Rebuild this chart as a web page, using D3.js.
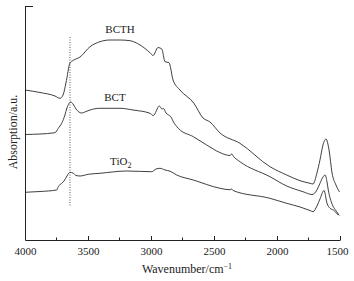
<!DOCTYPE html>
<html>
  <head>
    <meta charset="utf-8">
    <script src="https://cdn.jsdelivr.net/npm/d3@7"></script>
    <style>
      body { margin: 0; background: #fff; }
      text { font-family: "Liberation Serif", "Times New Roman", serif; fill: #222; }
    </style>
  </head>
  <body>
    <script>
      // spectra: [wavenumber, absorption (a.u.)]
      var bcth = [
        [4000, 1.50], [3881, 1.475], [3762, 1.44], [3722, 1.417], [3698, 1.45],
        [3675, 1.57], [3643, 1.77], [3619, 1.795], [3563, 1.83], [3484, 1.933],
        [3405, 1.983], [3325, 2.00], [3246, 2.00], [3167, 1.993], [3087, 1.95],
        [3008, 1.873], [2984, 1.845], [2944, 1.925], [2929, 1.92], [2913, 1.907],
        [2889, 1.783], [2857, 1.773], [2825, 1.60], [2770, 1.50], [2661, 1.37],
        [2587, 1.22], [2532, 1.18], [2452, 1.07], [2294, 0.967], [2056, 0.733],
        [1923, 0.65], [1817, 0.593], [1738, 0.567], [1714, 0.56], [1683, 0.67],
        [1659, 0.80], [1635, 0.95], [1611, 1.01], [1587, 0.90], [1563, 0.67],
        [1532, 0.55], [1504, 0.48]
      ];
      var bct = [
        [4000, 1.055], [3881, 1.06], [3762, 1.073], [3736, 1.117], [3709, 1.167],
        [3683, 1.25], [3667, 1.32], [3637, 1.38], [3619, 1.36], [3595, 1.31],
        [3550, 1.27], [3516, 1.285], [3484, 1.30], [3405, 1.317], [3246, 1.317],
        [3143, 1.30], [3008, 1.267], [2982, 1.245], [2933, 1.34], [2913, 1.31],
        [2901, 1.315], [2881, 1.27], [2861, 1.25], [2841, 1.23], [2823, 1.183],
        [2783, 1.117], [2664, 1.033], [2558, 0.95], [2454, 0.875], [2373, 0.845],
        [2360, 0.86], [2345, 0.835], [2294, 0.783], [2056, 0.633], [1923, 0.54],
        [1794, 0.483], [1722, 0.455], [1683, 0.50], [1659, 0.567], [1635, 0.63],
        [1619, 0.65], [1603, 0.58], [1593, 0.50], [1566, 0.37], [1526, 0.283],
        [1506, 0.245]
      ];
      var tio2 = [
        [4000, 0.477], [3881, 0.485], [3748, 0.50], [3736, 0.533], [3709, 0.567],
        [3690, 0.59], [3667, 0.64], [3643, 0.677], [3619, 0.67], [3595, 0.645],
        [3563, 0.64], [3498, 0.657], [3405, 0.667], [3193, 0.69], [2994, 0.683],
        [2960, 0.71], [2929, 0.717], [2889, 0.70], [2849, 0.688], [2796, 0.65],
        [2664, 0.60], [2452, 0.517], [2373, 0.502], [2360, 0.51], [2349, 0.495],
        [2056, 0.417], [1923, 0.367], [1817, 0.33], [1738, 0.295], [1714, 0.283],
        [1683, 0.34], [1659, 0.41], [1627, 0.495], [1603, 0.367], [1579, 0.317],
        [1553, 0.30], [1514, 0.25]
      ];
      var seriesNames = ["BCTH", "BCT", "TiO2"];
      // label anchor points [wavenumber, absorption]
      var labelPos = [[3246, 2.07], [3286, 1.39], [3325, 0.75]];
      // dotted marker line
      var markerWn = 3643;
      var markerRange = [0.33, 2.03];

      var xTicks = [4000, 3500, 3000, 2500, 2000, 1500];
      var xMinor = [3750, 3250, 2750, 2250, 1750];

      var width = 354, height = 281;
      var pad = { top: 6, bottom: 41, left: 25, right: 14 };

      var svg = d3.select("body").append("svg")
                  .attr("width", width)
                  .attr("height", height);

      var x = d3.scaleLinear()
                .domain([4000, 1500])
                .range([pad.left, width - pad.right]);
      var y = d3.scaleLinear()
                .domain([0, 2.34])
                .range([height - pad.bottom, pad.top]);

      var line = d3.line()
                   .x(function(d) { return x(d[0]); })
                   .y(function(d) { return y(d[1]); })
                   .curve(d3.curveMonotoneX);

      // spectra
      [bcth, bct, tio2].forEach(function(s) {
        svg.append("path")
           .attr("d", line(s))
           .attr("fill", "none")
           .attr("stroke", "#2a2a2a")
           .attr("stroke-width", 0.9);
      });

      // dotted vertical line
      svg.append("line")
         .attr("x1", x(markerWn)).attr("x2", x(markerWn))
         .attr("y1", y(markerRange[1])).attr("y2", y(markerRange[0]))
         .attr("stroke", "#444")
         .attr("stroke-width", 0.9)
         .attr("stroke-dasharray", "1,1.5");

      // x axis with inward ticks
      var xAxis = d3.axisBottom(x)
                    .tickValues(xTicks)
                    .tickFormat(d3.format("d"))
                    .tickSizeInner(-4)
                    .tickSizeOuter(0)
                    .tickPadding(7);
      var gx = svg.append("g")
                  .attr("transform", "translate(0," + y(0) + ")")
                  .call(xAxis);
      gx.selectAll("text").style("font-size", "11px")
        .style("font-family", "'Liberation Serif', serif").attr("fill", "#222");
      gx.selectAll(".tick text").filter(function(d) { return d === 1500; }).attr("dx", -3);
      gx.select(".domain").attr("stroke", "#222");
      gx.selectAll(".tick line").attr("stroke", "#222");
      gx.selectAll(".minor")
        .data(xMinor)
        .enter().append("line")
        .attr("x1", function(d) { return x(d); })
        .attr("x2", function(d) { return x(d); })
        .attr("y1", 0).attr("y2", -2.5)
        .attr("stroke", "#222");

      // y axis: plain line with a single tick at the top
      var yAxis = d3.axisLeft(y)
                    .tickValues([2.34])
                    .tickFormat("")
                    .tickSizeInner(-8)
                    .tickSizeOuter(0);
      var gy = svg.append("g")
                  .attr("transform", "translate(" + x(4000) + ",0)")
                  .call(yAxis);
      gy.select(".domain").attr("stroke", "#222");
      gy.selectAll(".tick line").attr("stroke", "#222");

      // series labels
      seriesNames.forEach(function(name, i) {
        var t = svg.append("text")
                   .attr("x", x(labelPos[i][0]))
                   .attr("y", y(labelPos[i][1]))
                   .style("font-size", "11px");
        if (name === "TiO2") {
          t.attr("text-anchor", "start");
          t.append("tspan").text("TiO");
          t.append("tspan").attr("dy", 3).style("font-size", "8px").text("2");
        } else {
          t.attr("text-anchor", "middle").text(name);
        }
      });

      // axis titles
      var xl = svg.append("text")
                  .attr("x", 187)
                  .attr("y", 273)
                  .attr("text-anchor", "middle")
                  .style("font-size", "12px");
      xl.append("tspan").text("Wavenumber/cm");
      xl.append("tspan").attr("dy", -4).style("font-size", "8px").text("\u22121");

      svg.append("text")
         .attr("transform", "translate(17,132) rotate(-90)")
         .attr("text-anchor", "middle")
         .style("font-size", "12px")
         .text("Absorption/a.u.");
    </script>
  </body>
</html>
